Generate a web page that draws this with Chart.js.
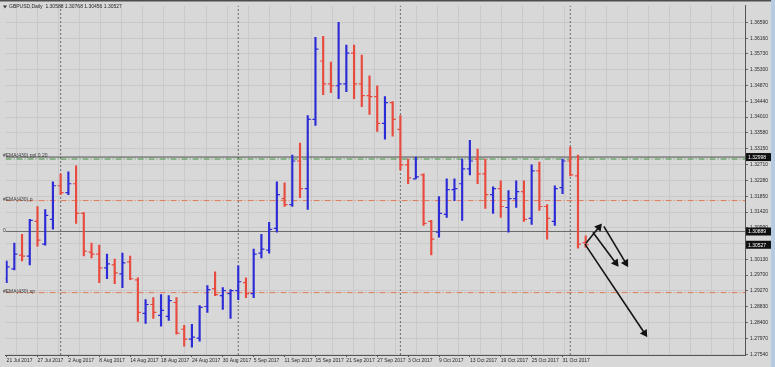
<!DOCTYPE html>
<html>
<head>
<meta charset="utf-8">
<script src="https://cdn.jsdelivr.net/npm/chart.js@4.4.1/dist/chart.umd.min.js"></script>
<style>
  html, body { margin: 0; padding: 0; background: #d8d8d8; }
  #wrap { width: 775px; height: 367px; }
</style>
</head>
<body>
<div id="wrap"><canvas id="chart" width="775" height="367"></canvas></div>
<script>
const symbolName = "GBPUSD,Daily";

// one label every 4 trading days, first one on bar 0
const dateLabels = ["21 Jul 2017", "27 Jul 2017", "2 Aug 2017", "8 Aug 2017", "14 Aug 2017",
  "18 Aug 2017", "24 Aug 2017", "30 Aug 2017", "5 Sep 2017", "11 Sep 2017", "15 Sep 2017",
  "21 Sep 2017", "27 Sep 2017", "3 Oct 2017", "9 Oct 2017", "13 Oct 2017", "19 Oct 2017",
  "25 Oct 2017", "31 Oct 2017"];

const opens = [1.29600, 1.29869, 1.30247, 1.30220, 1.31165, 1.30544, 1.31219, 1.32137, 1.31948, 1.32191,
  1.31381, 1.30328, 1.30274, 1.29896, 1.29977, 1.29735, 1.30058, 1.29572, 1.28655, 1.28898,
  1.28601, 1.28574, 1.28952, 1.28223, 1.27953, 1.27980, 1.28844, 1.29330, 1.29141, 1.29195,
  1.29276, 1.29492, 1.29195, 1.30301, 1.30382, 1.30976, 1.31786, 1.31624, 1.32811, 1.32056,
  1.33945, 1.35538, 1.34917, 1.34863, 1.34917, 1.35753, 1.34917, 1.34593, 1.34566, 1.33837,
  1.34404, 1.33675, 1.32704, 1.32326, 1.32434, 1.31165, 1.30868, 1.31354, 1.32029, 1.32191,
  1.32596, 1.32865, 1.32461, 1.31894, 1.32056, 1.31543, 1.31786, 1.31975, 1.31246, 1.32542,
  1.31570, 1.31165, 1.32083, 1.32811, 1.32407, 1.30588];

const highs = [1.30085, 1.30571, 1.30814, 1.31219, 1.31570, 1.31489, 1.32245, 1.32461, 1.32515, 1.32677,
  1.31408, 1.30571, 1.30517, 1.30274, 1.30139, 1.30301, 1.30220, 1.29627, 1.29033, 1.29087,
  1.29168, 1.29141, 1.29087, 1.28331, 1.28358, 1.28871, 1.29411, 1.29788, 1.29357, 1.29303,
  1.29950, 1.29627, 1.30409, 1.30814, 1.31138, 1.32245, 1.32218, 1.32973, 1.33297, 1.34053,
  1.36185, 1.36212, 1.35511, 1.36590, 1.35969, 1.35969, 1.35700, 1.35133, 1.34863, 1.34566,
  1.34431, 1.34053, 1.32865, 1.32919, 1.32461, 1.31192, 1.31840, 1.32326, 1.32326, 1.32865,
  1.33378, 1.33135, 1.32865, 1.32110, 1.32272, 1.32002, 1.32272, 1.32272, 1.32704, 1.32784,
  1.31624, 1.32137, 1.32865, 1.33189, 1.32973, 1.30768];

const lows = [1.29492, 1.29842, 1.30085, 1.29977, 1.30490, 1.30517, 1.30949, 1.31894, 1.31894, 1.31111,
  1.30220, 1.30166, 1.29492, 1.29600, 1.29465, 1.29357, 1.29572, 1.28439, 1.28385, 1.28520,
  1.28304, 1.28466, 1.28088, 1.27764, 1.27737, 1.27899, 1.28682, 1.29141, 1.28763, 1.28520,
  1.29033, 1.29087, 1.29087, 1.30166, 1.30301, 1.30868, 1.31570, 1.31570, 1.31813, 1.31489,
  1.33783, 1.34620, 1.34674, 1.34512, 1.34701, 1.34512, 1.34296, 1.34080, 1.33621, 1.33405,
  1.33486, 1.32569, 1.32191, 1.32326, 1.31057, 1.30247, 1.30733, 1.31273, 1.31732, 1.31192,
  1.32434, 1.32191, 1.31516, 1.31381, 1.31273, 1.30868, 1.31543, 1.31165, 1.31084, 1.31462,
  1.30679, 1.31057, 1.31921, 1.32407, 1.30436, 1.30456];

const closes = [1.29923, 1.30274, 1.30220, 1.31192, 1.30652, 1.31327, 1.32137, 1.31948, 1.32191, 1.31381,
  1.30355, 1.30274, 1.29896, 1.30004, 1.29761, 1.30031, 1.29600, 1.28682, 1.28898, 1.28682,
  1.28736, 1.29006, 1.28115, 1.27953, 1.28007, 1.28817, 1.29303, 1.29168, 1.29276, 1.29276,
  1.29518, 1.29195, 1.30274, 1.30409, 1.30949, 1.31894, 1.31624, 1.32811, 1.32056, 1.33945,
  1.35861, 1.34917, 1.34863, 1.34917, 1.35753, 1.34917, 1.34593, 1.34566, 1.33837, 1.34404,
  1.33945, 1.32704, 1.32353, 1.32380, 1.31111, 1.30679, 1.31381, 1.32029, 1.32056, 1.32596,
  1.32811, 1.32461, 1.31894, 1.32056, 1.31570, 1.31786, 1.31975, 1.31219, 1.32542, 1.31570,
  1.31246, 1.32056, 1.32811, 1.32434, 1.30544, 1.30527];

const priceTicks = [1.36590, 1.36160, 1.35730, 1.35300, 1.34870, 1.34440, 1.34010, 1.33580,
  1.33150, 1.32710, 1.32280, 1.31850, 1.31420, 1.30990, 1.30560, 1.30130, 1.29700, 1.29270,
  1.28830, 1.28400, 1.27970, 1.27540];

// horizontal lines drawn on the chart
const levelPrices = [1.32919, 1.32865, 1.31732, 1.30889, 1.29222];
const levelColors = ["#505050", "#3f8f3f", "#e07a5a", "#6a6a6a", "#e07a5a"];
const levelNames = ["#EMA(430) ppl 0.20", "", "#EMA(430) p", "0", "#EMA(430) sp"];

// black price boxes on the right axis
const markerPrices = [1.32919, 1.30889, 1.30527];
const markerTexts = ["1.32998", "1.30889", "1.30527"];

// period separators (first bar of Aug, Sep, Oct, Nov)
const separatorBars = [7, 30, 51, 73];

// hand drawn arrows: [bar, price] start and end
const arrowStarts = [[74.9, 1.30544], [75.93, 1.30868], [77.35, 1.31030], [75.03, 1.30571]];
const arrowEnds = [[82.63, 1.28115], [78.89, 1.30031], [80.18, 1.30031], [76.71, 1.31003]];

const xMin = -0.13;
const xMax = 95.63;
const yMin = 1.27521;
const yMax = 1.37049;
const tickOffset = 0.2;
const gridStep = 2.73;

const bullColor = "#2c2cd6";
const bearColor = "#e84a3e";
const barColor = (i) => closes[i] >= opens[i] ? bullColor : bearColor;

const gridValues = [];
for (let v = 1.26; v < xMax; v += gridStep) gridValues.push(v);

const datasets = [];

datasets.push({
    type: "bar",
    data: highs.map((h, i) => ({ x: i, y: [lows[i], h] })),
    backgroundColor: (c) => barColor(c.dataIndex),
    barThickness: 1.5,
    grouped: false,
    order: 3
});

datasets.push({
    type: "line",
    showLine: false,
    data: opens.map((o, i) => ({ x: i - tickOffset, y: o })),
    pointStyle: "line",
    pointRadius: 1.5,
    pointBorderWidth: 1.2,
    pointBorderColor: (c) => barColor(c.dataIndex),
    order: 2
});

datasets.push({
    type: "line",
    showLine: false,
    data: closes.map((v, i) => ({ x: i + tickOffset, y: v })),
    pointStyle: "line",
    pointRadius: 1.5,
    pointBorderWidth: 1.2,
    pointBorderColor: (c) => barColor(c.dataIndex),
    order: 2
});

levelPrices.forEach((p, i) => {
    const solid = levelColors[i] === "#505050" || levelColors[i] === "#6a6a6a";
    datasets.push({
        type: "line",
        data: [{ x: xMin, y: p }, { x: xMax, y: p }],
        borderColor: levelColors[i],
        borderWidth: 1,
        borderDash: solid ? [] : [6, 2, 1, 2],
        pointRadius: 0,
        order: 10
    });
});

separatorBars.forEach((b) => {
    datasets.push({
        type: "line",
        data: [{ x: b, y: yMin }, { x: b, y: yMax }],
        borderColor: "#6a6a6a",
        borderWidth: 1,
        borderDash: [2, 2],
        pointRadius: 0,
        order: 11
    });
});

function arrowRotation(c) {
    const d = c.dataset.data;
    const xs = c.chart.scales.x;
    const ys = c.chart.scales.y;
    const dx = xs.getPixelForValue(d[1].x) - xs.getPixelForValue(d[0].x);
    const dy = ys.getPixelForValue(d[1].y) - ys.getPixelForValue(d[0].y);
    return Math.atan2(dx, -dy) * 180 / Math.PI;
}

arrowStarts.forEach((s, i) => {
    datasets.push({
        type: "line",
        data: [{ x: s[0], y: s[1] }, { x: arrowEnds[i][0], y: arrowEnds[i][1] }],
        borderColor: "#141414",
        borderWidth: 1.6,
        pointStyle: "triangle",
        pointRadius: (c) => c.dataIndex === 1 ? 3.2 : 0,
        pointBackgroundColor: "#141414",
        pointBorderColor: "#141414",
        pointRotation: arrowRotation,
        order: 0
    });
});

const smallFont = { family: "Liberation Sans, Arial, sans-serif", size: 5 };

const overlay = {
    id: "overlay",
    beforeDraw(chart) {
        const ctx = chart.ctx;
        ctx.save();
        ctx.fillStyle = "#d8d8d8";
        ctx.fillRect(0, 0, chart.width, chart.height);
        ctx.fillStyle = "#b7cbe0";
        ctx.fillRect(771, 0, 4, chart.height);
        ctx.fillStyle = "#4d4d4d";
        ctx.fillRect(0, 0, 771, 1.5);
        ctx.restore();
    },
    afterDraw(chart) {
        const ctx = chart.ctx;
        const ys = chart.scales.y;
        const area = chart.chartArea;
        ctx.save();
        ctx.font = "5px Liberation Sans, Arial, sans-serif";
        ctx.textBaseline = "middle";

        // header
        const last = closes.length - 1;
        ctx.fillStyle = "#333";
        ctx.beginPath();
        ctx.moveTo(3, 5.5);
        ctx.lineTo(7, 5.5);
        ctx.lineTo(5, 8.5);
        ctx.fill();
        ctx.fillStyle = "#222";
        ctx.fillText(symbolName + "  " + [opens[last], highs[last], lows[last], closes[last]]
            .map((v) => v.toFixed(5)).join(" "), 9, 7);

        // level descriptions
        levelPrices.forEach((p, i) => {
            if (!levelNames[i]) return;
            ctx.fillStyle = "#3a3a3a";
            ctx.fillText(levelNames[i], 3, ys.getPixelForValue(p) - 1);
        });

        // price boxes
        markerPrices.forEach((p, i) => {
            const y = ys.getPixelForValue(p);
            ctx.fillStyle = "#101010";
            ctx.fillRect(area.right + 1, y - 4, 25, 8);
            ctx.fillStyle = "#ffffff";
            ctx.fillText(markerTexts[i], area.right + 3, y + 0.5);
        });
        ctx.restore();
    }
};

new Chart(document.getElementById("chart").getContext("2d"), {
    type: "bar",
    data: { datasets: datasets },
    options: {
        responsive: false,
        animation: false,
        events: [],
        devicePixelRatio: 1,
        layout: { padding: { top: 2, left: 0, right: 0, bottom: 0 } },
        plugins: { legend: { display: false }, tooltip: { enabled: false } },
        scales: {
            x: {
                type: "linear",
                min: xMin,
                max: xMax,
                offset: false,
                position: "bottom",
                afterBuildTicks: (s) => { s.ticks = dateLabels.map((_, k) => ({ value: k * 4 })); },
                afterFit: (s) => { s.height = 12; s.paddingLeft = 0; s.paddingRight = 0; },
                ticks: {
                    callback: (v) => dateLabels[Math.round(v / 4)],
                    align: "start",
                    autoSkip: false,
                    maxRotation: 0,
                    minRotation: 0,
                    padding: 1,
                    color: "#2a2a2a",
                    font: smallFont
                },
                grid: { drawOnChartArea: false, drawTicks: true, tickLength: 2, tickColor: "#555", offset: false },
                border: { display: true, color: "#555", width: 1 }
            },
            xg: {
                type: "linear",
                min: xMin,
                max: xMax,
                offset: false,
                position: "bottom",
                afterBuildTicks: (s) => { s.ticks = gridValues.map((v) => ({ value: v })); },
                afterFit: (s) => { s.height = 0; },
                ticks: { display: false },
                grid: { color: "#c9c9c9", lineWidth: 1, drawTicks: false, offset: false },
                border: { display: false }
            },
            y: {
                type: "linear",
                position: "right",
                min: yMin,
                max: yMax,
                afterBuildTicks: (s) => { s.ticks = priceTicks.map((v) => ({ value: v })); },
                afterFit: (s) => { s.width = 30; s.paddingTop = 0; s.paddingBottom = 0; },
                ticks: {
                    callback: (v) => v.toFixed(5),
                    padding: 2,
                    color: "#2a2a2a",
                    font: smallFont
                },
                grid: { color: "#c9c9c9", lineWidth: 1, tickLength: 3, tickColor: "#666" },
                border: { display: true, color: "#555", width: 1 }
            }
        }
    },
    plugins: [overlay]
});
</script>
</body>
</html>
